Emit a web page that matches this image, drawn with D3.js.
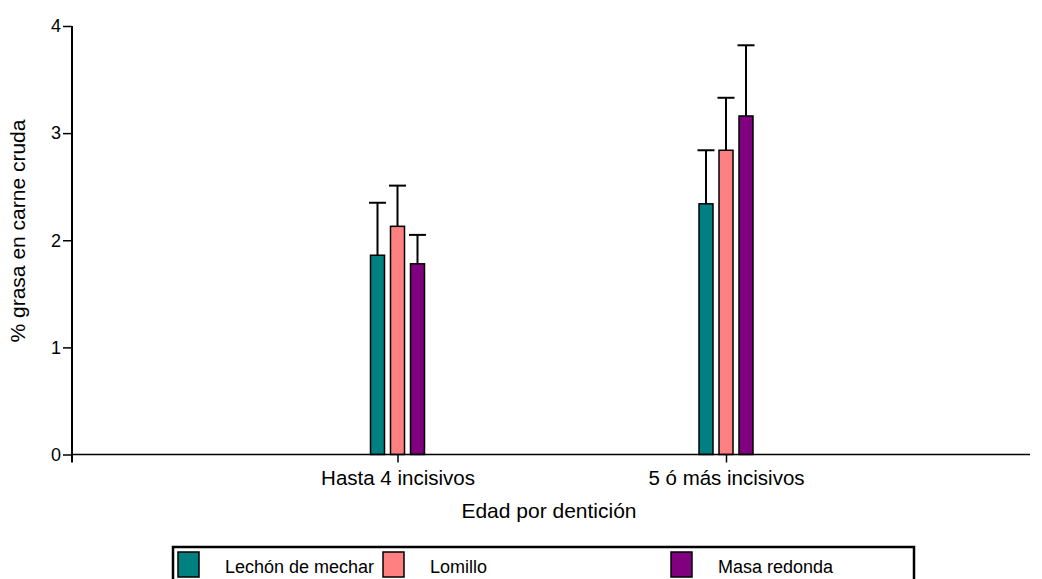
<!DOCTYPE html>
<html>
<head>
<meta charset="utf-8">
<script src="https://cdn.jsdelivr.net/npm/d3@7"></script>
<style>
  html, body { margin: 0; padding: 0; background: #fff; }
  svg { display: block; font-family: "Liberation Sans", Arial, sans-serif; }
</style>
</head>
<body>
<svg id="chart" width="1042" height="579"></svg>
<script>
// ---- data ----
const categories = ["Hasta 4 incisivos", "5 ó más incisivos"];
const seriesNames = ["Lechón de mechar", "Lomillo", "Masa redonda"];
const seriesColors = ["#008080", "#FF8080", "#800080"];
const lechonMeans = [1.86, 2.34];
const lomilloMeans = [2.13, 2.84];
const masaMeans = [1.78, 3.16];
const lechonErr = [0.49, 0.50];
const lomilloErr = [0.38, 0.49];
const masaErr = [0.27, 0.66];
const yTicks = [0, 1, 2, 3, 4];
const xTitle = "Edad por dentición";
const yTitle = "% grasa en carne cruda";

const means = [lechonMeans, lomilloMeans, masaMeans];
const errs = [lechonErr, lomilloErr, masaErr];

const svg = d3.select("#chart");
const axisLeftX = 72, axisRightX = 1030;
const y = d3.scaleLinear().domain([0, 4]).range([454.5, 26]);
const x = d3.scalePoint().domain(categories).range([397.5, 726]);
const xs = d3.scaleBand().domain(seriesNames).range([-30, 30]).paddingInner(0.3).paddingOuter(0.15);

const data = [];
categories.forEach((c, ci) => {
  seriesNames.forEach((s, si) => {
    data.push({cat: c, series: s, color: seriesColors[si], v: means[si][ci], e: errs[si][ci]});
  });
});

// error bars (upper only)
const eg = svg.append("g");
data.forEach(d => {
  const cx = x(d.cat) + xs(d.series) + xs.bandwidth() / 2;
  eg.append("line").attr("x1", cx).attr("x2", cx)
    .attr("y1", y(d.v)).attr("y2", y(d.v + d.e))
    .attr("stroke", "#000").attr("stroke-width", 2);
  eg.append("line").attr("x1", cx - 8.5).attr("x2", cx + 8.5)
    .attr("y1", y(d.v + d.e)).attr("y2", y(d.v + d.e))
    .attr("stroke", "#000").attr("stroke-width", 2);
});

// bars
svg.append("g").selectAll("rect").data(data).join("rect")
  .attr("x", d => x(d.cat) + xs(d.series))
  .attr("width", xs.bandwidth())
  .attr("y", d => y(d.v))
  .attr("height", d => y(0) - y(d.v))
  .attr("fill", d => d.color)
  .attr("stroke", "#000")
  .attr("stroke-width", 1.5);

// y axis
const yAxis = d3.axisLeft(y).tickValues(yTicks).tickSize(9).tickPadding(2).tickFormat(d3.format("d"));
const gy = svg.append("g").attr("transform", `translate(${axisLeftX},0)`).call(yAxis);
gy.select(".domain").remove();
gy.selectAll(".tick line").attr("stroke-width", 1.5);
gy.selectAll(".tick text").attr("font-size", 18).attr("fill", "#000")
  .attr("font-family", "Liberation Sans, Arial, sans-serif");
svg.append("line").attr("x1", axisLeftX).attr("x2", axisLeftX)
  .attr("y1", y(4)).attr("y2", y(0) + 8).attr("stroke", "#000").attr("stroke-width", 2);

// x axis
const xAxis = d3.axisBottom(x).tickSize(8).tickPadding(8);
const gx = svg.append("g").attr("transform", `translate(0,${y(0)})`).call(xAxis);
gx.select(".domain").remove();
gx.selectAll(".tick line").attr("stroke-width", 1.5);
gx.selectAll(".tick text").attr("font-size", 20.5).attr("fill", "#000")
  .attr("font-family", "Liberation Sans, Arial, sans-serif");
svg.append("line").attr("x1", axisLeftX).attr("x2", axisRightX)
  .attr("y1", y(0)).attr("y2", y(0)).attr("stroke", "#000").attr("stroke-width", 1.5);

// titles
svg.append("text").attr("x", 549).attr("y", 518).attr("text-anchor", "middle")
  .attr("font-size", 21).attr("fill", "#000").text(xTitle);
svg.append("text").attr("transform", "translate(25,231) rotate(-90)").attr("text-anchor", "middle")
  .attr("font-size", 21).attr("fill", "#000").text(yTitle);

// legend
const lg = svg.append("g");
lg.append("rect").attr("x", 173).attr("y", 547).attr("width", 741).attr("height", 40)
  .attr("fill", "none").attr("stroke", "#000").attr("stroke-width", 2.5);
const legendX = [178, 383, 671];
seriesNames.forEach((s, i) => {
  lg.append("rect").attr("x", legendX[i]).attr("y", 552).attr("width", 21).attr("height", 25)
    .attr("fill", seriesColors[i]).attr("stroke", "#000").attr("stroke-width", 1.5);
  lg.append("text").attr("x", legendX[i] + 47).attr("y", 573)
    .attr("font-size", 18).attr("fill", "#000").text(s);
});
</script>
</body>
</html>
